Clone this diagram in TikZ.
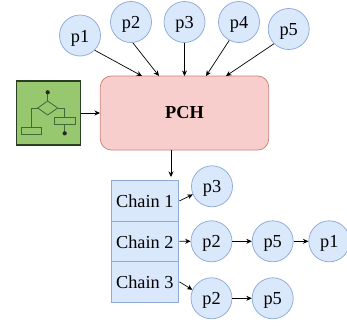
\documentclass[tikz,border=0pt]{standalone}
\usepackage{fontspec}
\setmainfont{Liberation Serif}
\usetikzlibrary{arrows.meta}
\definecolor{bluefill}{HTML}{DAE8FC}
\definecolor{blueline}{HTML}{8FAAD6}
\definecolor{redfill}{HTML}{F8CECC}
\definecolor{redline}{HTML}{CC7F7C}
\definecolor{greenfill}{HTML}{97C76F}
\definecolor{greenline}{HTML}{2A3F22}
\definecolor{iconline}{HTML}{41693A}
\tikzset{
  proc/.style={circle,draw=blueline,fill=bluefill,line width=0.75pt,minimum size=41pt,inner sep=0pt,font=\fontsize{18.3}{18}\selectfont,text height=13pt,text depth=0pt},
  chainrow/.style={rectangle,draw=blueline,fill=bluefill,line width=0.75pt,minimum width=67.5pt,minimum height=40.5pt,inner sep=0pt,font=\fontsize{18.3}{18}\selectfont,text height=14pt,text depth=0pt},
  pchbox/.style={rectangle,rounded corners=11pt,draw=redline,fill=redfill,line width=0.75pt,minimum width=168.4pt,minimum height=74pt,inner sep=0pt,font=\fontsize{18.3}{18}\selectfont\bfseries},
  iconbox/.style={rectangle,draw=greenline,fill=greenfill,line width=1.3pt,minimum size=64pt,inner sep=0pt},
  link/.style={draw=black,line width=0.7pt,-{Stealth[length=5.5pt,width=5pt]}},
  iconpart/.style={draw=iconline,line width=0.8pt},
  iconrect/.style={iconpart,fill=greenfill},
  icondot/.style={fill=black!85,draw=none}
}
\begin{document}
\begin{tikzpicture}[x=1pt,y=-1pt]
\useasboundingbox (0,0) rectangle (347,325);
\node[iconbox] (flow) at (48.2,113) {};
\node[pchbox] (pch) at (184.5,113) {PCH};
\node[proc] (a1) at (80,35.5) {p1};
\node[proc] (a2) at (131,22) {p2};
\node[proc] (a3) at (184.5,22) {p3};
\node[proc] (a4) at (239,22) {p4};
\node[proc] (a5) at (288.7,29) {p5};
\coordinate (t1) at (142,76);
\coordinate (t2) at (159,76);
\coordinate (t3) at (184.5,76);
\coordinate (t4) at (206,76);
\coordinate (t5) at (226,76);
\draw[link] (a1.-45) -- (t1);
\draw[link] (a2.-85) -- (t2);
\draw[link] (a3.-90) -- (t3);
\draw[link] (a4.-118) -- (t4);
\draw[link] (a5.-135) -- (t5);
\draw[link] (flow.east) -- (pch.west);
% icon
\draw[iconpart] (47.7,92.3) -- (47.7,101);
\draw[iconpart] (37.7,108) -- (31.4,108) -- (31.4,127.3);
\draw[iconpart] (57.7,108) -- (64.6,108) -- (64.6,133);
\draw[iconrect] (47.7,101) -- (57.7,108) -- (47.7,115) -- (37.7,108) -- cycle;
\draw[iconrect] (21,127.3) rectangle (41.7,134.3);
\draw[iconrect] (54.3,117.7) rectangle (75,124.3);
\fill[icondot] (47.7,92.3) circle (2.1);
\fill[icondot] (64.7,133.3) circle (2.1);
% chains
\node[chainrow] (c1) at (144.8,200.9) {Chain 1\hspace{1.5pt}};
\node[chainrow] (c2) at (144.8,241.2) {Chain 2\hspace{1.5pt}};
\node[chainrow] (c3) at (144.8,281.8) {Chain 3\hspace{1.5pt}};
\coordinate (ctop) at (171,177);
\draw[link] (pch.south -| ctop) -- (ctop);
\node[proc] (b1) at (212,186.3) {p3};
\node[proc] (b2) at (211.5,241.3) {p2};
\node[proc] (b3) at (272.7,241.3) {p5};
\node[proc] (b4) at (329.3,241.3) {p1};
\node[proc] (b5) at (211.5,298.3) {p2};
\node[proc] (b6) at (272.7,298.3) {p5};
\draw[link] (c1.east) ++(0.5,0) -- (b1.-157);
\draw[link] (c2.east) ++(0.5,0) -- (b2.west);
\draw[link] (b2.east) -- (b3.west);
\draw[link] (b3.east) -- (b4.west);
\draw[link] (c3.east) ++(0.5,0) -- (b5.156);
\draw[link] (b5.east) -- (b6.west);
\end{tikzpicture}
\end{document}
